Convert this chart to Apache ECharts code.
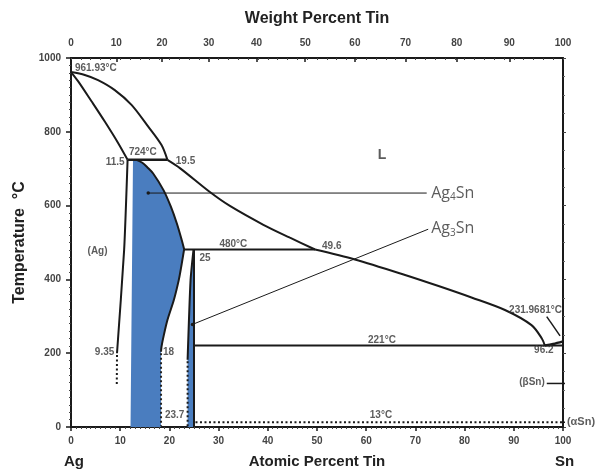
<!DOCTYPE html>
<html>
<head>
<meta charset="utf-8">
<script src="https://cdn.jsdelivr.net/npm/echarts@6/dist/echarts.min.js"></script>
<style>
  html, body { margin: 0; padding: 0; background: #fff; }
  #chart { width: 610px; height: 472px; }
</style>
</head>
<body>
<div id="chart"></div>
<script>
// top axis: weight percent tin ticks, placed at their atomic percent
const wtLabels = [0, 10, 20, 30, 40, 50, 60, 70, 80, 90, 100];
const wtPos = [0, 9.2, 18.5, 28.0, 37.7, 47.6, 57.7, 68.0, 78.4, 89.1, 100];

// phase boundaries [at% Sn, °C]
const liquidusAg = [[0, 961.93], [2.8, 954], [5.5, 940], [8.9, 913], [12.3, 873], [15.7, 814], [18.4, 764], [19.6, 724]];
const liquidusZeta = [[19.6, 724], [22.2, 701], [28.3, 636], [32.3, 599], [39.1, 548], [44.5, 513], [49.6, 481]];
const liquidusEps = [[49.6, 481], [57.7, 454], [67.9, 412], [74.7, 382], [81.4, 351], [88.2, 317], [93.6, 276], [95.7, 240], [96.3, 221]];
const solidusAg = [[0, 961.93], [1.5, 936], [4.2, 882], [6.9, 827], [9.6, 769], [11.5, 724]];
const solvusAg = [[11.5, 724], [10.8, 480], [9.35, 200]];
const solvusAgDot = [[9.35, 195], [9.3, 110]];
const peritectic724 = [[11.5, 724], [19.6, 724]];
const peritectic480 = [[23.0, 481], [49.6, 481]];
const eutectic221 = [[25, 221], [100, 221]];
const line13 = [[25.3, 13], [100, 13]];
const zetaUpper = [[13.3, 724], [14.5, 716], [15.5, 704], [16.7, 687], [18.8, 642], [20.3, 597], [21.5, 552], [22.5, 507], [23.0, 482]];
const zetaLower = [[23.0, 482], [22.4, 434], [21.9, 398], [20.9, 344], [19.6, 290], [18.8, 245], [18.4, 218], [18.3, 204]];
const zetaDot = [[18.3, 200], [18.3, 2]];
const epsLeft = [[24.9, 481], [24.3, 398], [23.7, 182]];
const epsDot = [[23.7, 178], [23.7, 2]];
const eps25 = [[25, 481], [25, 0]];
const snSide = [[96.3, 221], [98, 225], [100, 232]];

// shaded intermetallic fields
const zetaArea = [[12.6, 721], ...zetaUpper, ...zetaLower.slice(1), [18.3, 0], [12.1, 0]];
const epsArea = [[24.9, 478], [24.3, 398], [23.7, 182], [23.7, 0], [25, 0], [25, 478]];

// pointers
const arrow231 = [[96.7, 299], [99.4, 247]];
const betaPointer = [[96.7, 118], [100.6, 118]];
const alphaTick = [[100, 13], [101, 13]];
const ag4snPointer = [[15.7, 634], [72.3, 634]];
const ag3snPointer = [[24.7, 278], [72.6, 536]];

// text in the diagram: x, T, text, align
const diagramLabels = [
  [0.8, 973, "961.93°C", "left"],
  [14.6, 745, "724°C", "center"],
  [10.9, 717, "11.5", "right"],
  [21.3, 719, "19.5", "left"],
  [5.4, 477, "(Ag)", "center"],
  [33, 496, "480°C", "center"],
  [26.1, 457, "25", "left"],
  [53, 489, "49.6", "center"],
  [8.8, 202, "9.35", "right"],
  [18.7, 202, "18", "left"],
  [19.1, 32, "23.7", "left"],
  [63.2, 235, "221°C", "center"],
  [96.1, 207, "96.2", "center"],
  [99.8, 317, "231.9681°C", "right"],
  [63, 31, "13°C", "center"],
  [96.3, 120, "(βSn)", "right"]
];

const BLUE = "#4a7dbf";
const INK = "#1a1a1a";
const FONT = "Liberation Sans";

const chart = echarts.init(document.getElementById("chart"));

const seg = (data, extra) => Object.assign({
  type: "line",
  data: data,
  showSymbol: false,
  symbol: "none",
  silent: true,
  animation: false,
  clip: false,
  z: 3,
  lineStyle: { color: INK, width: 2 }
}, extra || {});

const dotted = { lineStyle: { color: INK, width: 2, type: [2, 2.5] } };

const area = (pts) => ({
  type: "custom",
  data: pts,
  silent: true,
  animation: false,
  z: 1,
  renderItem: (params, api) => {
    if (params.dataIndex !== 0) return null;
    return {
      type: "polygon",
      shape: { points: pts.map(p => api.coord(p)) },
      style: { fill: BLUE }
    };
  }
});

const pointer = (data) => seg(data, {
  lineStyle: { color: INK, width: 1 },
  showSymbol: true,
  symbol: (v, p) => (p.dataIndex === 0 ? "circle" : "none"),
  symbolSize: 3.5,
  itemStyle: { color: INK }
});

const phaseLabel = (x, T, text, align) => ({
  value: [x, T],
  label: { formatter: text, align: align }
});

const subRich = {
  n: { fontFamily: "Open Sans", fontSize: 16, fontWeight: "normal", color: "#333" },
  s: { fontFamily: "Open Sans", fontSize: 10, fontWeight: "normal", color: "#333", padding: [9, 0, 0, 0] }
};

const option = {
  animation: false,
  grid: { left: 71, right: 47, top: 58, bottom: 45, outerBoundsMode: "none" },
  xAxis: [
    {
      type: "value",
      position: "bottom",
      min: 0,
      max: 100,
      interval: 10,
      name: "Atomic Percent Tin",
      nameLocation: "middle",
      nameGap: 27,
      nameTextStyle: { fontFamily: FONT, fontSize: 15, fontWeight: "bold", color: "#222" },
      axisLine: { onZero: false, lineStyle: { color: INK, width: 2 } },
      axisTick: { length: 4, lineStyle: { color: INK, width: 1.5 } },
      minorTick: { show: true, splitNumber: 10, length: 2, lineStyle: { color: "#444" } },
      axisLabel: { margin: 9, fontFamily: FONT, fontSize: 10, fontWeight: "bold", color: "#444" },
      splitLine: { show: false }
    },
    {
      type: "value",
      position: "top",
      min: 0,
      max: 100,
      name: "Weight Percent Tin",
      nameLocation: "middle",
      nameGap: 31,
      nameTextStyle: { fontFamily: FONT, fontSize: 16, fontWeight: "bold", color: "#222" },
      axisLine: { onZero: false, lineStyle: { color: INK, width: 2 } },
      axisTick: { inside: true, length: 4, customValues: wtPos, lineStyle: { color: INK, width: 1.5 } },
      axisLabel: {
        margin: 10,
        customValues: wtPos,
        formatter: (v) => {
          const i = wtPos.indexOf(v);
          return i < 0 ? "" : String(wtLabels[i]);
        },
        fontFamily: FONT, fontSize: 10, fontWeight: "bold", color: "#444"
      },
      splitLine: { show: false }
    },
    {
      type: "value",
      position: "top",
      min: 0,
      max: 100,
      interval: 2,
      axisLine: { show: false, onZero: false },
      axisTick: { inside: true, length: 2, lineStyle: { color: "#444" } },
      axisLabel: { show: false },
      splitLine: { show: false }
    }
  ],
  yAxis: [
    {
      type: "value",
      position: "left",
      min: 0,
      max: 1000,
      interval: 200,
      name: "Temperature  °C",
      nameLocation: "middle",
      nameGap: 42,
      nameTextStyle: { fontFamily: FONT, fontSize: 16, fontWeight: "bold", color: "#222" },
      axisLine: { show: true, onZero: false, lineStyle: { color: INK, width: 2 } },
      axisTick: { show: true, length: 5, lineStyle: { color: INK, width: 1.5 } },
      minorTick: { show: true, splitNumber: 10, length: 2, lineStyle: { color: "#444" } },
      axisLabel: {
        margin: 10, formatter: (v) => String(v),
        fontFamily: FONT, fontSize: 10, fontWeight: "bold", color: "#444"
      },
      splitLine: { show: false }
    },
    {
      type: "value",
      position: "right",
      min: 0,
      max: 1000,
      interval: 200,
      axisLine: { show: true, onZero: false, lineStyle: { color: INK, width: 2 } },
      axisTick: { show: true, length: 3, lineStyle: { color: "#444" } },
      minorTick: { show: true, splitNumber: 4, length: 2, lineStyle: { color: "#666" } },
      axisLabel: { show: false },
      splitLine: { show: false }
    }
  ],
  graphic: [
    { type: "text", left: 64, top: 454, style: { text: "Ag", font: "bold 15px Liberation Sans", fill: "#222" } },
    { type: "text", left: 555, top: 454, style: { text: "Sn", font: "bold 15px Liberation Sans", fill: "#222" } }
  ],
  series: [
    area(zetaArea),
    area(epsArea),
    seg(liquidusAg, { smooth: 0.3 }),
    seg(liquidusZeta, { smooth: 0.3 }),
    seg(liquidusEps, { smooth: 0.3 }),
    seg(solidusAg, { smooth: 0.3 }),
    seg(solvusAg, { smooth: 0.2 }),
    seg(solvusAgDot, dotted),
    seg(peritectic724, { lineStyle: { color: INK, width: 2.5 } }),
    seg(peritectic480),
    seg(eutectic221),
    seg(line13, dotted),
    seg(zetaUpper, { smooth: 0.3 }),
    seg(zetaLower, { smooth: 0.3 }),
    seg(zetaDot, { lineStyle: { color: "#222", width: 2, type: [2, 2.5] } }),
    seg(epsLeft, { smooth: 0.2 }),
    seg(epsDot, dotted),
    seg(eps25),
    seg(snSide, { smooth: 0.3, lineStyle: { color: INK, width: 2.5 } }),
    seg(arrow231, { lineStyle: { color: INK, width: 1.5 } }),
    seg(betaPointer, { lineStyle: { color: INK, width: 1.5 } }),
    seg(alphaTick, { lineStyle: { color: INK, width: 1.5 } }),
    pointer(ag4snPointer),
    pointer(ag3snPointer),
    {
      type: "scatter",
      symbolSize: 0,
      silent: true,
      clip: false,
      z: 5,
      label: {
        show: true,
        position: [0, 0],
        verticalAlign: "middle",
        fontFamily: FONT,
        fontSize: 10,
        fontWeight: "bold",
        color: "#333"
      },
      data: diagramLabels.map(d => phaseLabel(d[0], d[1], d[2], d[3])).concat([
        { value: [63.2, 737], label: { formatter: "L", align: "center", fontSize: 14 } },
        { value: [100.8, 13], label: { formatter: "(αSn)", align: "left", fontSize: 11 } },
        { value: [73.2, 634], label: { formatter: "{n|Ag}{s|4}{n|Sn}", align: "left", rich: subRich } },
        { value: [73.2, 537], label: { formatter: "{n|Ag}{s|3}{n|Sn}", align: "left", rich: subRich } }
      ])
    }
  ]
};

chart.setOption(option);
</script>
</body>
</html>
